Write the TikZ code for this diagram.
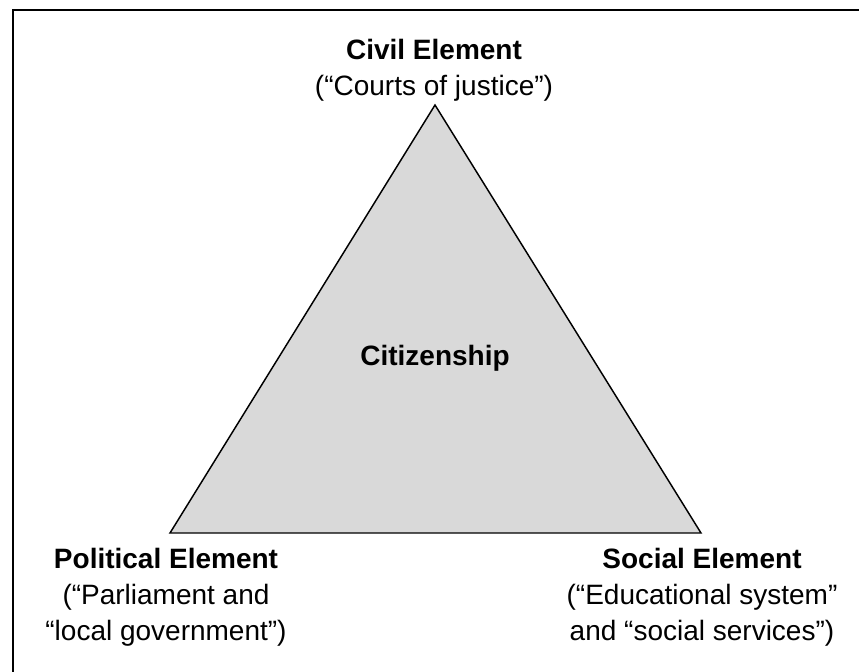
\documentclass[tikz,border=0pt]{standalone}
\usepackage{fontspec}
\setmainfont{Liberation Sans}
\usetikzlibrary{positioning}

\begin{document}
\begin{tikzpicture}[x=0.75pt, y=-0.75pt]
\tikzset{TriangleStyle/.style = {draw, line width=1.1pt, fill=black!15, line join=miter}}
\tikzset{ElementStyle/.style = {align=center, inner sep=0pt, font=\fontsize{21}{27}\selectfont}}
\tikzset{FrameStyle/.style = {line width=1.5pt}}
\useasboundingbox (0,0) rectangle (859,671);
\coordinate (FB) at (13,700);
\coordinate (FL) at (13,10);
\coordinate (FR) at (900,10);
\draw[FrameStyle] (FB) -- (FL) -- (FR);
\coordinate (C) at (435,105);
\coordinate (P) at (170,533);
\coordinate (S) at (701,533);
\draw[TriangleStyle] (C) -- (P) -- (S) -- cycle;
\node[ElementStyle] (Cit) at (435,358) {\textbf{Citizenship}};
\node[ElementStyle] (Civ) at (434,70) {\textbf{Civil Element}\\(“Courts of justice”)};
\node[ElementStyle] (Pol) at (166,597) {\textbf{Political Element}\\(“Parliament and\\“local government”)};
\node[ElementStyle] (Soc) at (702,597) {\textbf{Social Element}\\(“Educational system”\\and “social services”)};
\end{tikzpicture}
\end{document}
